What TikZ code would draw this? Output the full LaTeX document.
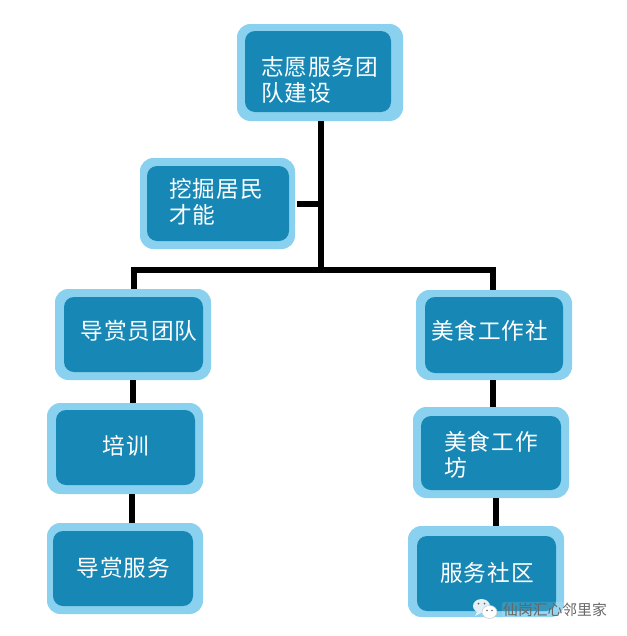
\documentclass[tikz,border=0pt]{standalone}
\usepackage{fontspec}
\usepackage{xcolor}
\setmainfont{Noto Sans CJK SC}
\newfontfamily\tilefont[LetterSpace=4]{Noto Sans CJK SC}
\definecolor{tileouter}{HTML}{89D1EE}
\definecolor{tileinner}{HTML}{1788B5}
\definecolor{chatbubble}{HTML}{E3F0F5}
\usetikzlibrary{positioning,calc}
\tikzset{
    tileback/.style={fill=tileouter, rounded corners=10pt, inner sep=0pt},
    tilefront/.style={fill=tileinner, rounded corners=7.5pt, inner sep=0pt},
    tiletext/.style={text=white, font=\tilefont\fontsize{17}{19.5}\selectfont, align=left, inner sep=0pt},
    trunk/.style={line width=4.5pt, black, line join=miter}
}
\begin{document}
\begin{tikzpicture}[x=0.75pt, y=-0.75pt]
    \useasboundingbox (0,0) rectangle (627,636);

    % name / outer x1,y1,x2,y2 / inner x1,y1,x2,y2 / text centre / text
    \foreach \n/\ax/\ay/\bx/\by/\cx/\cy/\dx/\dy/\tx/\ty/\txt in {
        top/237/24/403/121/245/31/391/112/319.5/80/{志愿服务团\\队建设},
        talent/140/158/295/249/147/166/289/241/216/201.5/{挖掘居民\\才能},
        guide/55/289/211/380/64/297/203/372/139/331/{导赏员团队},
        food/416/290/572/380/425/297/563/373/489.5/331/{美食工作社},
        train/47/403/203/494/56/410/195/485/126/446/{培训},
        tour/47/523/203/614/53/531/193/606/123.5/568/{导赏服务},
        shop/413/407/569/498/421/416/561/490/491/455/{美食工作\\坊},
        serve/408/526/564/617/417/536/556/611/487/573/{服务社区}} {
        \node[tileback, minimum width=(\bx-\ax)*0.75pt, minimum height=(\by-\ay)*0.75pt]
            (\n) at ({(\ax+\bx)/2}, {(\ay+\by)/2}) {};
        \node[tilefront, minimum width=(\dx-\cx)*0.75pt, minimum height=(\dy-\cy)*0.75pt]
            (\n-in) at ({(\cx+\dx)/2}, {(\cy+\dy)/2}) {};
        \node[tiletext] (\n-txt) at (\tx, \ty) {\txt};
    }

    % Connectors
    \coordinate (fork) at (321,270);
    \draw[trunk] (top.south -| fork) -- (fork);
    \draw[trunk, shorten <=1pt] (talent.east) -- (talent.east -| fork);
    \draw[trunk] ([xshift=0.5pt]guide.north) -- ([xshift=0.5pt]guide.north |- fork) -- ([xshift=-0.75pt]food.north |- fork) -- ([xshift=-0.75pt]food.north);
    \draw[trunk] (guide.south) -- (guide.south |- train.north);
    \draw[trunk] ([xshift=-0.75pt]guide.south |- train.south) -- ([xshift=-0.75pt]guide.south |- tour.north);
    \draw[trunk] ([xshift=-0.75pt]food.south) -- ([xshift=-0.75pt]food.south |- shop.north);
    \draw[trunk] ([xshift=1.5pt]food.south |- shop.south) -- ([xshift=1.5pt]food.south |- serve.north);

    % Watermark
    \node[fill=white, fill opacity=0.12, text opacity=1, text=black!60, font=\fontsize{11.1}{13}\selectfont, inner sep=1pt, rounded corners=2pt] (mark) at (555,610) {仙岗汇心邻里家};
    \fill[chatbubble] (478,610) -- (475,616) -- (483,612) -- cycle;
    \fill[chatbubble] (481.5,606) ellipse (8.5 and 7);
    \fill[white, draw=chatbubble!70!gray, line width=0.4pt] (489.5,612) ellipse (7.5 and 6.5);
    \fill[black!60] (478.5,603.5) circle (1) (484.5,603.5) circle (1) (487,610.5) circle (0.8) (492,610.5) circle (0.8);
\end{tikzpicture}
\end{document}
